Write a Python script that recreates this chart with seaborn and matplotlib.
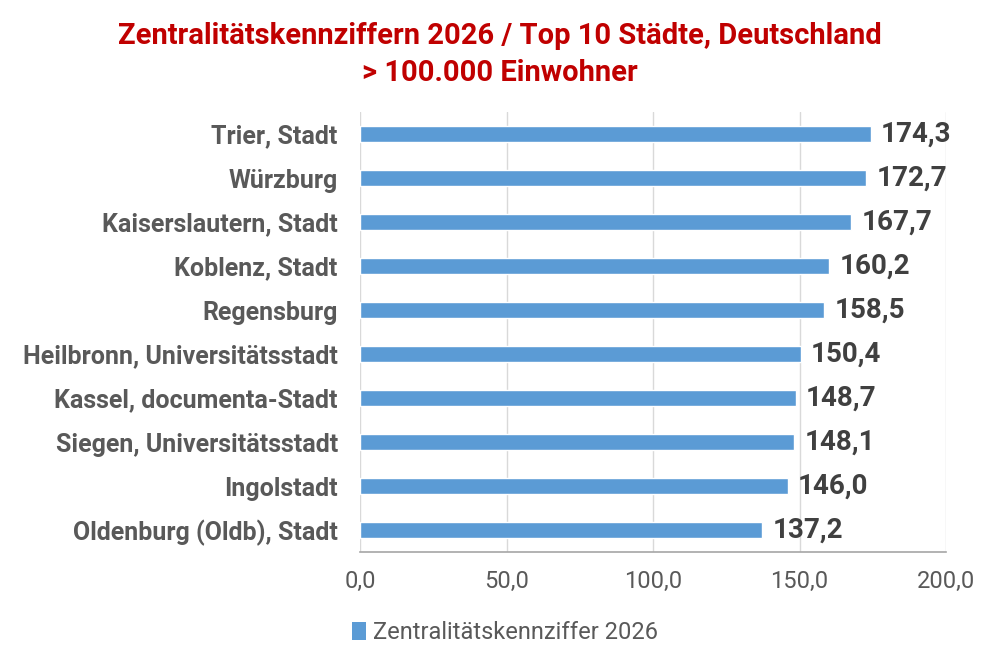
import matplotlib
matplotlib.use("Agg")
import matplotlib.pyplot as plt
import seaborn as sns
import pandas as pd
from matplotlib.patches import Patch

cities = ["Trier, Stadt", "Würzburg", "Kaiserslautern, Stadt", "Koblenz, Stadt",
          "Regensburg", "Heilbronn, Universitätsstadt", "Kassel, documenta-Stadt",
          "Siegen, Universitätsstadt", "Ingolstadt", "Oldenburg (Oldb), Stadt"]
values = [174.3, 172.7, 167.7, 160.2, 158.5, 150.4, 148.7, 148.1, 146.0, 137.2]
series_name = "Zentralitätskennziffer 2026"
xticks = [0, 50, 100, 150, 200]

sns.set_theme(style="white")
plt.rcParams['font.family'] = ['Roboto', 'DejaVu Sans']

df = pd.DataFrame({"city": cities, "value": values})
bar_color = "#5B9BD5"

fig = plt.figure(figsize=(10, 6.67), dpi=100)
ax = fig.add_axes([0.36, 0.172, 0.586, 0.66])
sns.barplot(data=df, y="city", x="value", color=bar_color, width=0.37,
            saturation=1, ax=ax, orient="h")

ax.set_xlim(0, 200)
ax.set_xticks(xticks)
ax.set_xticklabels([f"{t:.1f}".replace(".", ",") for t in xticks],
                   fontsize=17, color="#595959")
ax.tick_params(axis="x", length=0, pad=13)
ax.tick_params(axis="y", length=0, pad=16)
for lbl in ax.get_yticklabels():
    lbl.set_fontsize(18)
    lbl.set_fontweight("bold")
    lbl.set_color("#595959")
ax.set_xlabel("")
ax.set_ylabel("")
ax.xaxis.grid(True, color="#D9D9D9", linewidth=1)
ax.set_axisbelow(True)
for s in ["top", "right", "left"]:
    ax.spines[s].set_visible(False)
ax.spines["bottom"].set_color("#A6A6A6")
ax.spines["bottom"].set_linewidth(1.2)

for i, v in enumerate(values):
    ax.text(v + 3.5, i, f"{v:.1f}".replace(".", ","), va="center", ha="left",
            fontsize=20, fontweight="bold", color="#404040", clip_on=False)

fig.text(0.5, 0.946, "Zentralitätskennziffern 2026 / Top 10 Städte, Deutschland",
         ha="center", va="center", fontsize=21, fontweight="bold", color="#C00000")
fig.text(0.5, 0.890, "> 100.000 Einwohner",
         ha="center", va="center", fontsize=21, fontweight="bold", color="#C00000")

handle = Patch(facecolor=bar_color, edgecolor="none")
fig.legend([handle], [series_name], loc="center", bbox_to_anchor=(0.505, 0.052),
           frameon=False, fontsize=17, handlelength=0.6, handleheight=0.8,
           handletextpad=0.3, labelcolor="#595959")

fig.savefig("out.png", dpi=100)
